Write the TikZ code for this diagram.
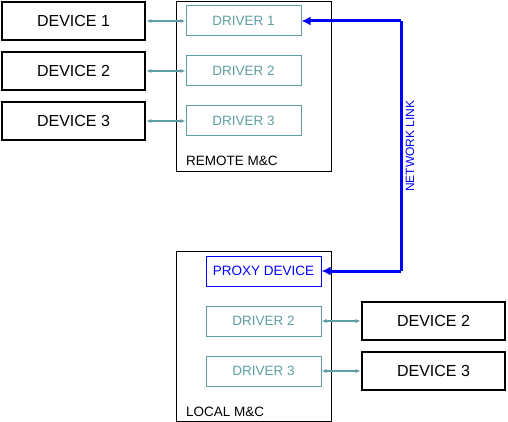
\documentclass[tikz,border=0pt]{standalone}
\usepackage{fontspec}
\setmainfont{Liberation Sans}
\usetikzlibrary{arrows.meta}
\definecolor{teal}{RGB}{95,158,160}
\begin{document}
\begin{tikzpicture}[x=1pt,y=-1pt,
  devbox/.style={draw=black,line width=2.6pt,minimum width=143pt,minimum height=38pt,inner sep=0pt,font=\fontsize{16}{18}\selectfont},
  drvbox/.style={draw=teal,text=teal,line width=1pt,minimum width=115pt,minimum height=30pt,inner sep=0pt,font=\fontsize{13.5}{15}\selectfont},
  proxbox/.style={draw=blue,text=blue,line width=1pt,minimum width=115pt,minimum height=30pt,inner sep=0pt,font=\fontsize{13.5}{15}\selectfont},
  frame/.style={draw=black,line width=1pt},
  lbl/.style={anchor=base west,inner sep=0pt,font=\fontsize{13.5}{15}\selectfont},
  tlink/.style={draw=teal,line width=1.2pt,{Latex[length=5pt,width=4pt]}-{Latex[length=5pt,width=4pt]}},
  nlink/.style={draw=blue,line width=3pt,-{Latex[length=9pt,width=9pt]}}]
\useasboundingbox (0,0) rectangle (508,422);
% remote frame
\draw[frame] (176.5,1.5) rectangle (331.5,171.5);
\node[lbl] (rlbl) at (186,166) {REMOTE M\&C};
% local frame
\draw[frame] (176.5,251.5) rectangle (331.5,421.5);
\node[lbl] (llbl) at (186,416) {LOCAL M\&C};
% left devices
\node[devbox] (d1) at (73.5,21) {DEVICE 1};
\node[devbox] (d2) at (73.5,71) {DEVICE 2};
\node[devbox] (d3) at (73.5,121) {DEVICE 3};
% remote drivers
\node[drvbox] (r1) at (243.5,21) {DRIVER 1};
\node[drvbox] (r2) at (243.5,71) {DRIVER 2};
\node[drvbox] (r3) at (243.5,121) {DRIVER 3};
% local
\node[proxbox] (px) at (263.5,271) {PROXY DEVICE};
\node[drvbox] (l2) at (263.5,321) {DRIVER 2};
\node[drvbox] (l3) at (263.5,371) {DRIVER 3};
\node[devbox] (e2) at (433.5,321) {DEVICE 2};
\node[devbox] (e3) at (433.5,371) {DEVICE 3};
% teal links
\draw[tlink] (d1.east) -- (r1.west);
\draw[tlink] (d2.east) -- (r2.west);
\draw[tlink] (d3.east) -- (r3.west);
\draw[tlink] (l2.east) -- (e2.west);
\draw[tlink] (l3.east) -- (e3.west);
% network link
\coordinate (nt) at (401,21);
\coordinate (nb) at (401,271);
\draw[nlink] (nt) -- (r1.east);
\draw[nlink] (nb) -- (px.east);
\draw[draw=blue,line width=3pt] (nt) -- (nb);
\node[text=blue,rotate=90,font=\fontsize{12}{14}\selectfont,inner sep=0pt] (nl) at (410,146) {NETWORK LINK};
\end{tikzpicture}
\end{document}
